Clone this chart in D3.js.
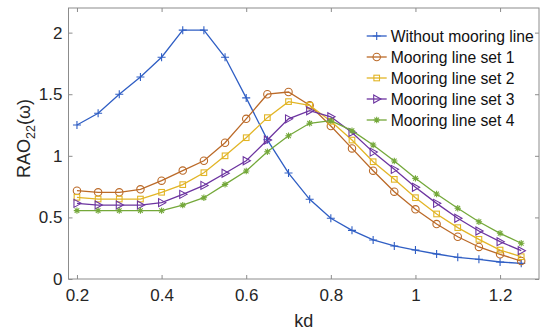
<!DOCTYPE html>
<html>
<head>
<meta charset="utf-8">
<script src="https://cdn.jsdelivr.net/npm/d3@7"></script>
<style>
    body { margin: 0; background: #fff; }
    svg { display: block; font-family: "Liberation Sans", Arial, Helvetica, sans-serif; }
    .axis path.domain { display: none; }
    .axis line { stroke: #8c8c8c; }
    .axis text { fill: #262626; font-size: 17px; }
    .frame { fill: none; stroke: #8c8c8c; stroke-width: 1; }
    .series { fill: none; stroke-width: 1.3; }
    .marker { fill: none; stroke-width: 1.1; }
</style>
</head>
<body>
<svg id="canvas" width="550" height="333"></svg>
<script>
// kd values (x)
const kd = [0.2, 0.25, 0.3, 0.35, 0.4, 0.45, 0.5, 0.55, 0.6, 0.65, 0.7,
            0.75, 0.8, 0.85, 0.9, 0.95, 1.0, 1.05, 1.1, 1.15, 1.2, 1.25];

const withoutMooring = [1.25, 1.345, 1.50, 1.64, 1.80, 2.02, 2.02, 1.80, 1.47, 1.13, 0.86,
                        0.647, 0.493, 0.395, 0.317, 0.268, 0.235, 0.203, 0.176, 0.16, 0.138, 0.127];
const mooringSet1 = [0.717, 0.704, 0.704, 0.728, 0.798, 0.88, 0.96, 1.106, 1.30, 1.50, 1.518,
                     1.41, 1.242, 1.06, 0.879, 0.709, 0.566, 0.446, 0.343, 0.26, 0.20, 0.146];
const mooringSet2 = [0.663, 0.649, 0.649, 0.649, 0.704, 0.766, 0.863, 1.00, 1.147, 1.31, 1.44,
                     1.41, 1.28, 1.128, 0.952, 0.809, 0.66, 0.528, 0.417, 0.322, 0.235, 0.181];
const mooringSet3 = [0.614, 0.60, 0.60, 0.60, 0.62, 0.687, 0.76, 0.858, 0.96, 1.128, 1.30,
                     1.366, 1.317, 1.19, 1.03, 0.89, 0.744, 0.614, 0.493, 0.39, 0.303, 0.23];
const mooringSet4 = [0.555, 0.555, 0.555, 0.555, 0.555, 0.60, 0.66, 0.768, 0.877, 1.033, 1.163,
                     1.264, 1.285, 1.204, 1.088, 0.958, 0.817, 0.69, 0.574, 0.465, 0.371, 0.29];

const seriesNames = ["Without mooring line", "Mooring line set 1", "Mooring line set 2",
                     "Mooring line set 3", "Mooring line set 4"];
const seriesValues = [withoutMooring, mooringSet1, mooringSet2, mooringSet3, mooringSet4];
const seriesColors = ["#2f5ec4", "#bb6a28", "#e2b526", "#6c34a0", "#74a83a"];
const seriesMarkers = ["plus", "circle", "square", "triangle", "star"];

const xTicks = [0.2, 0.4, 0.6, 0.8, 1, 1.2];
const yTicks = [0, 0.5, 1, 1.5, 2];

document.addEventListener("DOMContentLoaded", function() {
    const margin = {top: 8, right: 11, bottom: 54, left: 68.5};
    const width = 550 - margin.left - margin.right;
    const height = 333 - margin.top - margin.bottom;

    const svg = d3.select("#canvas")
        .append("g")
        .attr("transform", `translate(${margin.left},${margin.top})`);

    const x = d3.scaleLinear().domain([0.18, 1.292]).range([0, width]);
    const y = d3.scaleLinear().domain([0, 2.2]).range([height, 0]);

    // Axes (ticks point inward, mirrored on top/right)
    svg.append("g")
        .attr("class", "axis")
        .attr("transform", `translate(0,${height})`)
        .call(d3.axisBottom(x).tickValues(xTicks).tickSizeInner(-4).tickSizeOuter(0)
            .tickPadding(10).tickFormat(d3.format("")));

    svg.append("g")
        .attr("class", "axis")
        .call(d3.axisTop(x).tickValues(xTicks).tickSizeInner(-4).tickSizeOuter(0).tickFormat(""));

    svg.append("g")
        .attr("class", "axis")
        .call(d3.axisLeft(y).tickValues(yTicks).tickSizeInner(-4).tickSizeOuter(0)
            .tickPadding(6).tickFormat(d3.format("")));

    svg.append("g")
        .attr("class", "axis")
        .attr("transform", `translate(${width},0)`)
        .call(d3.axisRight(y).tickValues(yTicks).tickSizeInner(-4).tickSizeOuter(0).tickFormat(""));

    svg.append("rect")
        .attr("class", "frame")
        .attr("width", width)
        .attr("height", height);

    // Axis labels
    svg.append("text")
        .attr("x", width / 2)
        .attr("y", height + 48)
        .attr("text-anchor", "middle")
        .style("font-size", "18px")
        .style("fill", "#262626")
        .text("kd");

    const yLabel = svg.append("text")
        .attr("transform", `translate(${30 - margin.left},${height / 2 - 5}) rotate(-90)`)
        .attr("text-anchor", "middle")
        .style("font-size", "18px")
        .style("fill", "#262626");
    yLabel.append("tspan").text("RAO");
    yLabel.append("tspan").attr("dy", 5).style("font-size", "12.5px").text("22");
    yLabel.append("tspan").attr("dy", -5).text("(ω)");

    // Lines and markers
    const line = d3.line()
        .x((d, i) => x(kd[i]))
        .y(d => y(d));

    seriesValues.forEach(function(values, s) {
        const color = seriesColors[s];
        svg.append("path")
            .attr("class", "series")
            .attr("stroke", color)
            .attr("d", line(values));

        svg.append("g")
            .selectAll("g")
            .data(values)
            .enter()
            .append("g")
            .attr("transform", (d, i) => `translate(${x(kd[i])},${y(d)})`)
            .each(function() {
                drawMarker(d3.select(this), seriesMarkers[s], color);
            });
    });

    // Legend (no box)
    const legend = svg.append("g")
        .attr("transform", `translate(${366.7 - margin.left},${36 - margin.top})`);

    seriesNames.forEach(function(name, s) {
        const row = legend.append("g").attr("transform", `translate(0,${s * 21})`);
        row.append("line")
            .attr("x1", 0).attr("x2", 20)
            .attr("stroke", seriesColors[s])
            .attr("stroke-width", 1.3);
        drawMarker(row.append("g").attr("transform", "translate(10,0)"), seriesMarkers[s], seriesColors[s]);
        row.append("text")
            .attr("x", 24)
            .attr("y", 5.5)
            .style("font-size", "15.7px")
            .style("fill", "#111")
            .text(name);
    });

    function drawMarker(g, type, color) {
        if (type === "circle") {
            g.append("circle").attr("class", "marker").attr("r", 3.7).attr("stroke", color);
        } else if (type === "square") {
            g.append("rect").attr("class", "marker")
                .attr("x", -2.8).attr("y", -2.8).attr("width", 5.6).attr("height", 5.6)
                .attr("stroke", color);
        } else if (type === "triangle") {
            g.append("path").attr("class", "marker")
                .attr("d", "M-3,-4L4.2,0L-3,4Z").attr("stroke", color);
        } else if (type === "plus") {
            g.append("path").attr("class", "marker")
                .attr("d", "M-4,0H4M0,-4V4").attr("stroke", color);
        } else {
            g.append("path").attr("class", "marker")
                .attr("d", "M-3.2,0H3.2M0,-3.2V3.2M-2.3,-2.3L2.3,2.3M-2.3,2.3L2.3,-2.3")
                .attr("stroke", color);
        }
    }
});
</script>
</body>
</html>
